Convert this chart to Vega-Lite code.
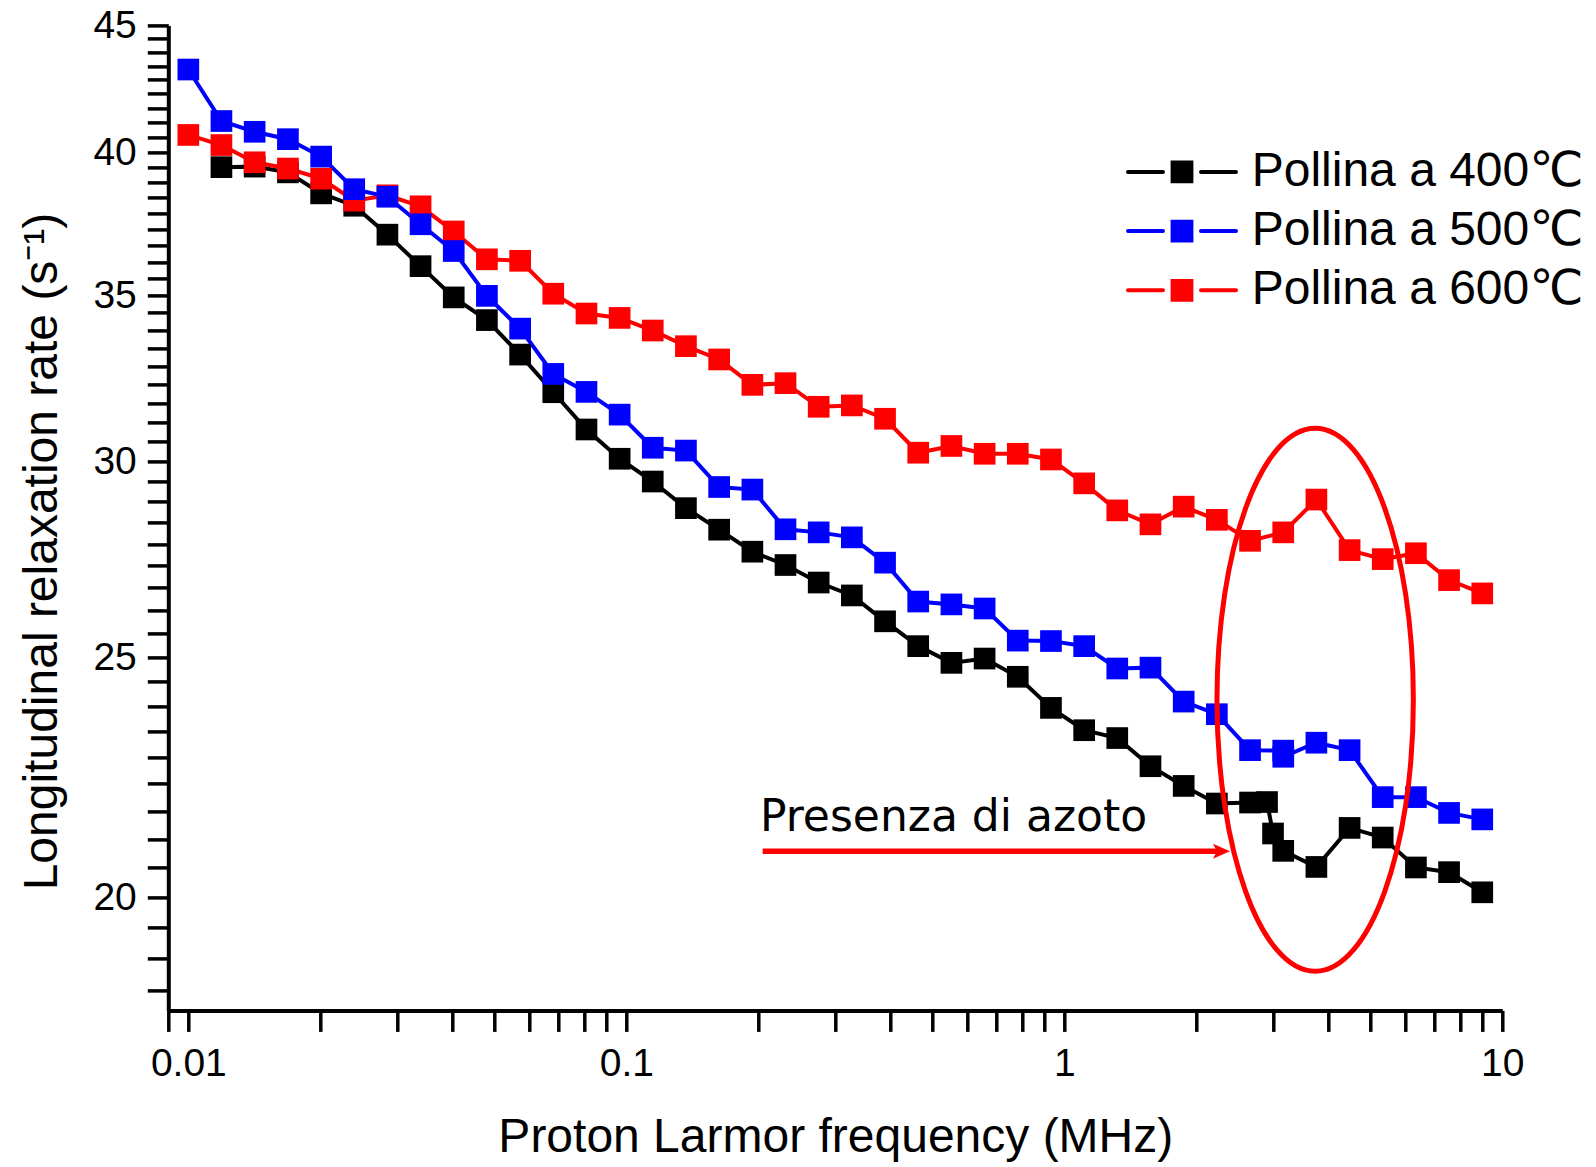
{
  "$schema": "https://vega.github.io/schema/vega-lite/v6.json",
  "width": 1334,
  "height": 985,
  "autosize": "none",
  "padding": {"left": 168.3, "top": 25.4, "right": 93.7, "bottom": 156.6},
  "background": "white",
  "config": {
    "view": {"stroke": null},
    "axis": {
      "grid": false,
      "domainColor": "black",
      "domainWidth": 4,
      "tickColor": "black",
      "tickWidth": 3.5,
      "tickSize": 21,
      "labelColor": "black",
      "labelFont": "Liberation Sans",
      "labelFontSize": 39,
      "labelOverlap": false,
      "labelFlush": false,
      "labelBound": false,
      "titleColor": "black",
      "titleFont": "Liberation Sans",
      "titleFontSize": 48,
      "titleFontWeight": "normal"
    }
  },
  "datasets": {
    "pts": [
      {"s": "Pollina a 400℃", "x": 0.0119, "y": 39.44},
      {"s": "Pollina a 400℃", "x": 0.01417, "y": 39.46},
      {"s": "Pollina a 400℃", "x": 0.01688, "y": 39.25},
      {"s": "Pollina a 400℃", "x": 0.0201, "y": 38.49},
      {"s": "Pollina a 400℃", "x": 0.02392, "y": 38.05},
      {"s": "Pollina a 400℃", "x": 0.02848, "y": 37.04},
      {"s": "Pollina a 400℃", "x": 0.0339, "y": 35.97},
      {"s": "Pollina a 400℃", "x": 0.04036, "y": 34.94},
      {"s": "Pollina a 400℃", "x": 0.04805, "y": 34.21},
      {"s": "Pollina a 400℃", "x": 0.05722, "y": 33.13},
      {"s": "Pollina a 400℃", "x": 0.06811, "y": 31.99},
      {"s": "Pollina a 400℃", "x": 0.0811, "y": 30.9},
      {"s": "Pollina a 400℃", "x": 0.09655, "y": 30.07},
      {"s": "Pollina a 400℃", "x": 0.1149, "y": 29.44},
      {"s": "Pollina a 400℃", "x": 0.1368, "y": 28.72},
      {"s": "Pollina a 400℃", "x": 0.1629, "y": 28.15},
      {"s": "Pollina a 400℃", "x": 0.194, "y": 27.58},
      {"s": "Pollina a 400℃", "x": 0.2309, "y": 27.24},
      {"s": "Pollina a 400℃", "x": 0.2749, "y": 26.8},
      {"s": "Pollina a 400℃", "x": 0.3273, "y": 26.48},
      {"s": "Pollina a 400℃", "x": 0.3897, "y": 25.85},
      {"s": "Pollina a 400℃", "x": 0.4639, "y": 25.26},
      {"s": "Pollina a 400℃", "x": 0.5524, "y": 24.87},
      {"s": "Pollina a 400℃", "x": 0.6577, "y": 24.97},
      {"s": "Pollina a 400℃", "x": 0.783, "y": 24.55},
      {"s": "Pollina a 400℃", "x": 0.9322, "y": 23.85},
      {"s": "Pollina a 400℃", "x": 1.11, "y": 23.36},
      {"s": "Pollina a 400℃", "x": 1.321, "y": 23.19},
      {"s": "Pollina a 400℃", "x": 1.573, "y": 22.59},
      {"s": "Pollina a 400℃", "x": 1.873, "y": 22.18},
      {"s": "Pollina a 400℃", "x": 2.23, "y": 21.82},
      {"s": "Pollina a 400℃", "x": 2.655, "y": 21.84},
      {"s": "Pollina a 400℃", "x": 2.903, "y": 21.85},
      {"s": "Pollina a 400℃", "x": 2.996, "y": 21.22},
      {"s": "Pollina a 400℃", "x": 3.161, "y": 20.88},
      {"s": "Pollina a 400℃", "x": 3.763, "y": 20.57},
      {"s": "Pollina a 400℃", "x": 4.481, "y": 21.33},
      {"s": "Pollina a 400℃", "x": 5.333, "y": 21.14},
      {"s": "Pollina a 400℃", "x": 6.35, "y": 20.56},
      {"s": "Pollina a 400℃", "x": 7.559, "y": 20.47},
      {"s": "Pollina a 400℃", "x": 9.0, "y": 20.09},
      {"s": "Pollina a 600℃", "x": 0.01, "y": 40.64},
      {"s": "Pollina a 600℃", "x": 0.0119, "y": 40.26},
      {"s": "Pollina a 600℃", "x": 0.01417, "y": 39.62},
      {"s": "Pollina a 600℃", "x": 0.01688, "y": 39.39},
      {"s": "Pollina a 600℃", "x": 0.0201, "y": 39.02},
      {"s": "Pollina a 600℃", "x": 0.02392, "y": 38.23},
      {"s": "Pollina a 600℃", "x": 0.02848, "y": 38.42},
      {"s": "Pollina a 600℃", "x": 0.0339, "y": 38.03},
      {"s": "Pollina a 600℃", "x": 0.04036, "y": 37.15},
      {"s": "Pollina a 600℃", "x": 0.04805, "y": 36.2},
      {"s": "Pollina a 600℃", "x": 0.05722, "y": 36.15},
      {"s": "Pollina a 600℃", "x": 0.06811, "y": 35.06},
      {"s": "Pollina a 600℃", "x": 0.0811, "y": 34.42},
      {"s": "Pollina a 600℃", "x": 0.09655, "y": 34.28},
      {"s": "Pollina a 600℃", "x": 0.1149, "y": 33.88},
      {"s": "Pollina a 600℃", "x": 0.1368, "y": 33.39},
      {"s": "Pollina a 600℃", "x": 0.1629, "y": 32.98},
      {"s": "Pollina a 600℃", "x": 0.194, "y": 32.21},
      {"s": "Pollina a 600℃", "x": 0.2309, "y": 32.26},
      {"s": "Pollina a 600℃", "x": 0.2749, "y": 31.56},
      {"s": "Pollina a 600℃", "x": 0.3273, "y": 31.6},
      {"s": "Pollina a 600℃", "x": 0.3897, "y": 31.21},
      {"s": "Pollina a 600℃", "x": 0.4639, "y": 30.24},
      {"s": "Pollina a 600℃", "x": 0.5524, "y": 30.43},
      {"s": "Pollina a 600℃", "x": 0.6577, "y": 30.21},
      {"s": "Pollina a 600℃", "x": 0.783, "y": 30.21},
      {"s": "Pollina a 600℃", "x": 0.9322, "y": 30.05},
      {"s": "Pollina a 600℃", "x": 1.11, "y": 29.39},
      {"s": "Pollina a 600℃", "x": 1.321, "y": 28.66},
      {"s": "Pollina a 600℃", "x": 1.573, "y": 28.29},
      {"s": "Pollina a 600℃", "x": 1.873, "y": 28.76},
      {"s": "Pollina a 600℃", "x": 2.23, "y": 28.41},
      {"s": "Pollina a 600℃", "x": 2.655, "y": 27.86},
      {"s": "Pollina a 600℃", "x": 3.161, "y": 28.08},
      {"s": "Pollina a 600℃", "x": 3.763, "y": 28.95},
      {"s": "Pollina a 600℃", "x": 4.481, "y": 27.62},
      {"s": "Pollina a 600℃", "x": 5.333, "y": 27.39},
      {"s": "Pollina a 600℃", "x": 6.35, "y": 27.54},
      {"s": "Pollina a 600℃", "x": 7.559, "y": 26.86},
      {"s": "Pollina a 600℃", "x": 9.0, "y": 26.53},
      {"s": "Pollina a 500℃", "x": 0.01, "y": 43.19},
      {"s": "Pollina a 500℃", "x": 0.0119, "y": 41.17},
      {"s": "Pollina a 500℃", "x": 0.01417, "y": 40.76},
      {"s": "Pollina a 500℃", "x": 0.01688, "y": 40.48},
      {"s": "Pollina a 500℃", "x": 0.0201, "y": 39.83},
      {"s": "Pollina a 500℃", "x": 0.02392, "y": 38.64},
      {"s": "Pollina a 500℃", "x": 0.02848, "y": 38.37},
      {"s": "Pollina a 500℃", "x": 0.0339, "y": 37.4},
      {"s": "Pollina a 500℃", "x": 0.04036, "y": 36.48},
      {"s": "Pollina a 500℃", "x": 0.04805, "y": 34.99},
      {"s": "Pollina a 500℃", "x": 0.05722, "y": 33.94},
      {"s": "Pollina a 500℃", "x": 0.06811, "y": 32.54},
      {"s": "Pollina a 500℃", "x": 0.0811, "y": 32.0},
      {"s": "Pollina a 500℃", "x": 0.09655, "y": 31.33},
      {"s": "Pollina a 500℃", "x": 0.1149, "y": 30.38},
      {"s": "Pollina a 500℃", "x": 0.1368, "y": 30.3},
      {"s": "Pollina a 500℃", "x": 0.1629, "y": 29.29},
      {"s": "Pollina a 500℃", "x": 0.194, "y": 29.22},
      {"s": "Pollina a 500℃", "x": 0.2309, "y": 28.16},
      {"s": "Pollina a 500℃", "x": 0.2749, "y": 28.08},
      {"s": "Pollina a 500℃", "x": 0.3273, "y": 27.95},
      {"s": "Pollina a 500℃", "x": 0.3897, "y": 27.3},
      {"s": "Pollina a 500℃", "x": 0.4639, "y": 26.33},
      {"s": "Pollina a 500℃", "x": 0.5524, "y": 26.26},
      {"s": "Pollina a 500℃", "x": 0.6577, "y": 26.16},
      {"s": "Pollina a 500℃", "x": 0.783, "y": 25.39},
      {"s": "Pollina a 500℃", "x": 0.9322, "y": 25.38},
      {"s": "Pollina a 500℃", "x": 1.11, "y": 25.26},
      {"s": "Pollina a 500℃", "x": 1.321, "y": 24.74},
      {"s": "Pollina a 500℃", "x": 1.573, "y": 24.76},
      {"s": "Pollina a 500℃", "x": 1.873, "y": 23.99},
      {"s": "Pollina a 500℃", "x": 2.23, "y": 23.71},
      {"s": "Pollina a 500℃", "x": 2.655, "y": 22.93},
      {"s": "Pollina a 500℃", "x": 3.161, "y": 22.92},
      {"s": "Pollina a 500℃", "x": 3.162, "y": 22.79},
      {"s": "Pollina a 500℃", "x": 3.763, "y": 23.09},
      {"s": "Pollina a 500℃", "x": 4.481, "y": 22.93},
      {"s": "Pollina a 500℃", "x": 5.333, "y": 21.95},
      {"s": "Pollina a 500℃", "x": 6.35, "y": 21.95},
      {"s": "Pollina a 500℃", "x": 7.559, "y": 21.63},
      {"s": "Pollina a 500℃", "x": 9.0, "y": 21.5}
    ]
  },
  "encoding": {
    "x": {
      "field": "x",
      "type": "quantitative",
      "scale": {"type": "log", "domain": [0.009, 10], "nice": false, "zero": false},
      "axis": {
        "title": "Proton Larmor frequency (MHz)",
        "values": [0.009, 0.01, 0.02, 0.03, 0.04, 0.05, 0.06, 0.07, 0.08, 0.09, 0.1, 0.2, 0.3, 0.4, 0.5, 0.6, 0.7, 0.8, 0.9, 1, 2, 3, 4, 5, 6, 7, 8, 9, 10],
        "labelExpr": "(datum.value == 0.01 || datum.value == 0.1 || datum.value == 1 || datum.value == 10) ? datum.value + '' : ''",
        "labelPadding": 13,
        "titleX": 667,
        "titleY": 140.6,
        "titleAlign": "center",
        "titleBaseline": "alphabetic",
        "encode": {
          "ticks": {
            "update": {
              "y2": {"signal": "(datum.value == 0.01 || datum.value == 0.1 || datum.value == 1 || datum.value == 10) ? 21 : 11"}
            }
          }
        }
      }
    },
    "y": {
      "field": "y",
      "type": "quantitative",
      "scale": {"type": "log", "domain": [18, 45], "nice": false, "zero": false},
      "axis": {
        "title": "Longitudinal relaxation rate (s⁻¹)",
        "values": [18.333, 18.889, 19.444, 20, 20.556, 21.111, 21.667, 22.222, 22.778, 23.333, 23.889, 24.444, 25, 25.556, 26.111, 26.667, 27.222, 27.778, 28.333, 28.889, 29.444, 30, 30.556, 31.111, 31.667, 32.222, 32.778, 33.333, 33.889, 34.444, 35, 35.556, 36.111, 36.667, 37.222, 37.778, 38.333, 38.889, 39.444, 40, 40.556, 41.111, 41.667, 42.222, 42.778, 43.333, 43.889, 44.444, 45],
        "labelExpr": "datum.value % 5 == 0 ? datum.value + '' : ''",
        "labelPadding": 11,
        "titleX": -111.6,
        "titleY": 525.6,
        "titleAngle": -90,
        "titleAlign": "center",
        "titleBaseline": "alphabetic",
        "encode": {
          "ticks": {
            "update": {
              "x2": {"signal": "datum.value % 5 == 0 ? -21 : -11"}
            }
          }
        }
      }
    }
  },
  "layer": [
    {
      "data": {"name": "pts"},
      "mark": {"type": "line", "strokeWidth": 4},
      "encoding": {
        "color": {
          "field": "s",
          "type": "nominal",
          "scale": {"domain": ["Pollina a 400℃", "Pollina a 500℃", "Pollina a 600℃"], "range": ["#000000", "#0000ff", "#ff0000"]},
          "legend": {
            "orient": "none",
            "legendX": 989.7,
            "legendY": 122.5,
            "title": null,
            "padding": 0,
            "labelFont": "Liberation Sans, DejaVu Sans",
            "labelFontSize": 48,
            "labelColor": "black",
            "labelOffset": 45.7,
            "labelLimit": 0,
            "rowPadding": 11.2,
            "symbolType": "M-2.7,0L-0.95,0M-0.47,-0.47L0.47,-0.47L0.47,0.47L-0.47,0.47ZM0.95,0L2.7,0",
            "symbolSize": 1600,
            "symbolStrokeWidth": 4,
            "symbolOpacity": 1,
            "encode": {
              "symbols": {
                "update": {
                  "fill": {"scale": "color", "field": "value"},
                  "stroke": {"scale": "color", "field": "value"},
                  "strokeWidth": {"value": 4},
                  "strokeCap": {"value": "round"},
                  "opacity": {"value": 1}
                }
              }
            }
          }
        }
      }
    },
    {
      "data": {"name": "pts"},
      "mark": {"type": "point", "shape": "square", "filled": true, "size": 470, "opacity": 1, "strokeWidth": 0},
      "encoding": {
        "color": {"field": "s", "type": "nominal"}
      }
    },
    {
      "data": {"values": [{"x": 3.739, "y": 24.03}]},
      "mark": {
        "type": "point",
        "shape": "M0.982,0C0.982,1.4995 0.5424,2.715 0,2.715C-0.5424,2.715 -0.982,1.4995 -0.982,0C-0.982,-1.4995 -0.5424,-2.715 0,-2.715C0.5424,-2.715 0.982,-1.4995 0.982,0Z",
        "size": 40000,
        "filled": false,
        "color": "#ff0000",
        "strokeWidth": 5,
        "opacity": 1
      },
      "encoding": {}
    },
    {
      "data": {"values": [{"x": 0.2048, "x2": 2.291, "y": 20.87}]},
      "mark": {"type": "rule", "color": "#ff0000", "strokeWidth": 5.5},
      "encoding": {
        "x2": {"field": "x2"}
      }
    },
    {
      "data": {"values": [{"x": 2.389, "y": 20.87}]},
      "mark": {
        "type": "point",
        "shape": "M0,0L-1.7,-0.75L-1.3,0L-1.7,0.75Z",
        "size": 400,
        "filled": true,
        "color": "#ff0000",
        "strokeWidth": 0,
        "opacity": 1
      },
      "encoding": {}
    },
    {
      "data": {"values": [{"x": 0.2019, "y": 21.27, "t": "Presenza di azoto"}]},
      "mark": {
        "type": "text",
        "align": "left",
        "baseline": "alphabetic",
        "font": "Comic Sans MS, DejaVu Sans",
        "fontSize": 44,
        "color": "black"
      },
      "encoding": {
        "text": {"field": "t"}
      }
    }
  ]
}
